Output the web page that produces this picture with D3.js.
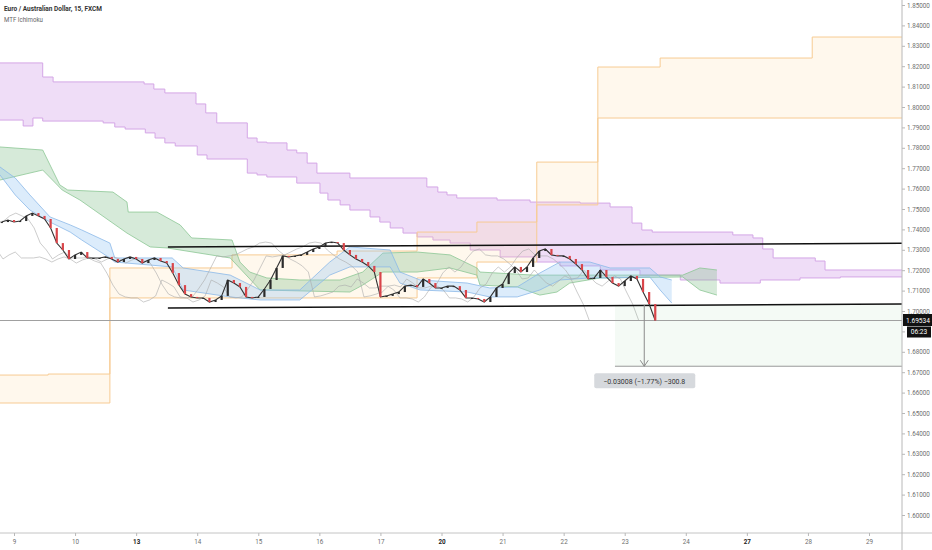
<!DOCTYPE html>
<html>
<head>
<meta charset="utf-8">
<script src="https://cdn.jsdelivr.net/npm/d3@7"></script>
<style>
  body { margin: 0; background: #fff; }
  text { font-family: Roboto, "Noto Sans", sans-serif; }
</style>
</head>
<body>
<div id="chart"></div>
<script>
// ---------- data (x = trading-day index, 0 = the "9" label; y = EUR/AUD price) ----------
var dayLabels = ["9", "10", "13", "14", "15", "16", "17", "20", "21", "22", "23", "24", "27", "28", "29"];
var boldDays = ["13", "20", "27"];
var priceTicks = [1.60, 1.61, 1.62, 1.63, 1.64, 1.65, 1.66, 1.67, 1.68, 1.69, 1.70, 1.71, 1.72,
                  1.73, 1.74, 1.75, 1.76, 1.77, 1.78, 1.79, 1.80, 1.81, 1.82, 1.83, 1.84, 1.85];

// closes, one every 0.1 day starting at day -0.2
var closeStart = -0.2, closeStep = 0.1;
var closes = [1.7436, 1.7446, 1.7436, 1.7441, 1.7466, 1.7480, 1.7466, 1.7451, 1.7407, 1.7333,
              1.7299, 1.7255, 1.7275, 1.7289, 1.7260, 1.7260, 1.7260, 1.7265, 1.7255, 1.7240,
              1.7255, 1.7265, 1.7255, 1.7235, 1.7250, 1.7260, 1.7245, 1.7235, 1.7186, 1.7127,
              1.7083, 1.7069, 1.7064, 1.7064, 1.7044, 1.7054, 1.7074, 1.7152, 1.7137, 1.7118,
              1.7069, 1.7064, 1.7069, 1.7108, 1.7152, 1.7211, 1.7270, 1.7265, 1.7270, 1.7275,
              1.7289, 1.7304, 1.7314, 1.7333, 1.7338, 1.7333, 1.7299, 1.7275, 1.7255, 1.7240,
              1.7221, 1.7191, 1.7069, 1.7074, 1.7083, 1.7093, 1.7122, 1.7127, 1.7118, 1.7157,
              1.7137, 1.7113, 1.7113, 1.7122, 1.7122, 1.7103, 1.7064, 1.7064, 1.7059, 1.7044,
              1.7069, 1.7113, 1.7132, 1.7186, 1.7216, 1.7191, 1.7216, 1.7260, 1.7294, 1.7304,
              1.7275, 1.7270, 1.7270, 1.7255, 1.7230, 1.7201, 1.7157, 1.7162, 1.7201, 1.7167,
              1.7137, 1.7122, 1.7147, 1.7172, 1.7157, 1.7093, 1.7034, 1.69534];
var lastPrice = 1.69534;
var timerText = "06:23";
// lagging spans: 26 bars of 15m and of 1h, in days
var laggingShifts = [0.27, 1.08];

// higher timeframe cloud (violet), step lines
var violetA = [[-0.23,1.8216],[0.47,1.8147],[0.64,1.8123],[2.13,1.8113],[2.29,1.8088],[2.47,1.8069],
  [2.98,1.8015],[3.14,1.7971],[3.32,1.7922],[3.82,1.7848],[3.98,1.7828],[4.14,1.7824],[4.47,1.7789],
  [4.63,1.7775],[4.80,1.7725],[4.96,1.7676],[5.50,1.7652],[6.76,1.7608],[6.94,1.7583],[7.09,1.7569],
  [7.25,1.7554],[7.91,1.7544],[8.45,1.7534],[9.27,1.7529],[9.76,1.7510],[10.12,1.7431],[10.28,1.7397],
  [10.45,1.7387],[11.77,1.7373],[12.10,1.7358],[12.26,1.7304],[12.43,1.7260],[13.12,1.7245],
  [13.28,1.7201],[14.54,1.7201]];
var violetB = [[-0.23,1.7936],[0.15,1.7907],[0.31,1.7946],[0.47,1.7931],[1.46,1.7922],[1.65,1.7902],
  [1.82,1.7892],[2.15,1.7873],[2.31,1.7848],[2.47,1.7824],[2.64,1.7809],[3.00,1.7765],[3.16,1.7745],
  [3.82,1.7676],[3.98,1.7667],[4.14,1.7657],[4.63,1.7627],[5.01,1.7578],[5.14,1.7544],[5.34,1.7520],
  [5.50,1.7495],[5.83,1.7461],[5.99,1.7436],[6.16,1.7407],[6.37,1.7382],[6.60,1.7363],[6.86,1.7348],
  [7.14,1.7333],[7.47,1.7299],[7.96,1.7265],[8.56,1.7240],[8.94,1.7221],[9.60,1.7201],[10.25,1.7176],
  [10.91,1.7152],[11.56,1.7137],[12.22,1.7152],[12.87,1.7162],[13.53,1.7167],[14.54,1.7167]];

// daily cloud (orange), step lines
var orangeA = [[-0.23,1.6686],[0.56,1.6691],[1.57,1.7064],[6.60,1.7162],[7.58,1.7240],[8.56,1.7520],
  [9.56,1.7946],[14.54,1.7946]];
var orangeB = [[-0.23,1.6549],[1.57,1.7211],[3.57,1.7275],[5.29,1.7294],[6.60,1.7387],[7.58,1.7436],
  [8.56,1.7730],[9.56,1.8196],[10.58,1.8240],[13.07,1.8343],[14.54,1.8343]];

// 1h cloud (green)
var greenUpper = [[-0.23,1.7804],[0.47,1.7789],[0.75,1.7618],[0.88,1.7593],[1.62,1.7583],[1.85,1.7534],
  [1.87,1.7485],[2.34,1.7485],[2.72,1.7422],[2.91,1.7358],[3.57,1.7348],[3.70,1.7240],[3.86,1.7191],
  [4.14,1.7162],[4.68,1.7152],[5.34,1.7152],[5.71,1.7191],[6.04,1.7284],[6.60,1.7289],[7.14,1.7275],
  [7.58,1.7211],[7.63,1.7191],[8.50,1.7176],[9.10,1.7176],[10.95,1.7176],[11.23,1.7211],[11.51,1.7201]];
var greenLower = [[-0.23,1.7642],[0.47,1.7691],[0.79,1.7593],[1.08,1.7544],[1.85,1.7382],[2.23,1.7314],
  [2.51,1.7309],[3.54,1.7260],[4.03,1.7103],[5.50,1.7093],[5.71,1.7127],[6.04,1.7191],[6.60,1.7191],
  [7.14,1.7211],[7.58,1.7176],[7.63,1.7127],[8.24,1.7118],[8.61,1.7078],[8.89,1.7093],[9.10,1.7137],
  [9.60,1.7162],[10.95,1.7167],[11.23,1.7103],[11.51,1.7078]];

// 15m cloud (blue)
var blueUpper = [[-0.23,1.7706],[0.02,1.7652],[0.26,1.7569],[0.59,1.7461],[0.92,1.7422],[1.11,1.7397],
  [1.57,1.7333],[1.65,1.7260],[2.59,1.7260],[2.77,1.7211],[3.54,1.7176],[4.03,1.7103],[4.68,1.7103],
  [5.17,1.7240],[5.50,1.7314],[6.16,1.7299],[6.32,1.7191],[6.65,1.7152],[7.42,1.7137],[7.79,1.7113],
  [8.24,1.7118],[8.61,1.7186],[8.94,1.7240],[9.43,1.7240],[9.76,1.7211],[10.41,1.7211],[10.58,1.7167],
  [10.77,1.7152]];
var blueLower = [[-0.23,1.7667],[0.02,1.7569],[0.26,1.7495],[0.59,1.7436],[0.92,1.7387],[1.11,1.7348],
  [1.57,1.7260],[1.65,1.7240],[2.59,1.7216],[2.77,1.7103],[3.54,1.7069],[4.03,1.7054],[4.68,1.7054],
  [5.17,1.7176],[5.50,1.7216],[6.16,1.7216],[6.32,1.7137],[6.65,1.7103],[7.42,1.7093],[7.79,1.7069],
  [8.24,1.7069],[8.61,1.7103],[8.94,1.7152],[9.43,1.7162],[9.76,1.7162],[10.41,1.7167],[10.58,1.7103],
  [10.77,1.7039]];

// drawn trend lines
var channelTop = [[2.52,1.7314],[14.54,1.7332]];
var channelBottom = [[2.52,1.7015],[14.54,1.7034]];

// price range measure
var measureStart = 9.84, measureEnd = 14.54, measureArrowAt = 10.32;
var measureFrom = 1.70300, measureTo = 1.67292;

// ---------- layout ----------
var W = 932, H = 550, plotRight = 902, plotBottom = 533;

var svg = d3.select("#chart").append("svg")
  .attr("width", W)
  .attr("height", H)
  .style("background", "#fff");

var x = d3.scaleLinear().domain([0, 14]).range([14, 869]);
var y = d3.scaleLinear().domain([1.60, 1.85]).range([515, 5]);

svg.append("clipPath").attr("id", "plot")
  .append("rect").attr("x", 0).attr("y", 0).attr("width", plotRight).attr("height", plotBottom);
var chart = svg.append("g").attr("clip-path", "url(#plot)");

var stepA = d3.line().x(d => x(d[0])).y(d => y(d[1])).curve(d3.curveStepAfter);
var stepB = d3.line().x(d => x(d[0])).y(d => y(d[1])).curve(d3.curveStepBefore);
var lin = d3.line().x(d => x(d[0])).y(d => y(d[1]));

function stepCloud(a, b, fill, fillOpacity, stroke) {
  var back = stepB(b.slice().reverse()).replace(/^M/, "L");
  chart.append("path")
    .attr("d", stepA(a) + back + "Z")
    .attr("fill", fill)
    .attr("fill-opacity", fillOpacity);
  [a, b].forEach(function (s) {
    chart.append("path").attr("d", stepA(s))
      .attr("fill", "none").attr("stroke", stroke).attr("stroke-width", 1);
  });
}

function lineCloud(up, low, fill, fillOpacity, stroke) {
  chart.append("path")
    .attr("d", lin(up.concat(low.slice().reverse())) + "Z")
    .attr("fill", fill)
    .attr("fill-opacity", fillOpacity);
  [up, low].forEach(function (s) {
    chart.append("path").attr("d", lin(s))
      .attr("fill", "none").attr("stroke", stroke).attr("stroke-width", 0.8);
  });
}

// clouds
stepCloud(violetA, violetB, "#dcb3ee", 0.45, "#d4a6e6");
stepCloud(orangeA, orangeB, "#ffd699", 0.18, "#f7cb93");
lineCloud(greenUpper, greenLower, "#80bf8a", 0.32, "#8cc794");
lineCloud(blueUpper, blueLower, "#92c5f2", 0.32, "#8bb9e8");

// bars built from closes (open = previous close)
var bars = closes.map(function (c, i) {
  return { t: closeStart + i * closeStep, o: i ? closes[i - 1] : c, c: c };
});

// lagging spans (price plotted back in time)
laggingShifts.forEach(function (s) {
  chart.append("path")
    .datum(bars)
    .attr("d", d3.line().x(d => x(d.t - s)).y(d => y(d.c)))
    .attr("fill", "none")
    .attr("stroke", "#aaaaaa")
    .attr("stroke-width", 0.6);
});

// measure area
chart.append("rect")
  .attr("x", x(measureStart))
  .attr("y", y(measureFrom))
  .attr("width", x(measureEnd) - x(measureStart))
  .attr("height", y(measureTo) - y(measureFrom))
  .attr("fill", "#4caf50")
  .attr("fill-opacity", 0.06);
chart.append("line")
  .attr("x1", x(measureStart)).attr("x2", x(measureEnd))
  .attr("y1", y(measureTo)).attr("y2", y(measureTo))
  .attr("stroke", "#9a9a9a").attr("stroke-width", 1);

// current price line
chart.append("line")
  .attr("x1", 0).attr("x2", plotRight)
  .attr("y1", y(lastPrice)).attr("y2", y(lastPrice))
  .attr("stroke", "#a0a0a0").attr("stroke-width", 1);

// channel lines
[channelTop, channelBottom].forEach(function (l) {
  chart.append("path").attr("d", lin(l))
    .attr("fill", "none").attr("stroke", "#111").attr("stroke-width", 1.5);
});

// candles
chart.append("path")
  .datum(bars)
  .attr("d", d3.line().x(d => x(d.t)).y(d => y(d.c)))
  .attr("fill", "none")
  .attr("stroke", "#333")
  .attr("stroke-width", 1.1);
chart.selectAll("rect.candle")
  .data(bars)
  .enter()
  .append("rect")
  .attr("class", "candle")
  .attr("x", d => x(d.t) - 1.1)
  .attr("width", 2.2)
  .attr("y", d => y(Math.max(d.o, d.c)))
  .attr("height", d => Math.max(1, Math.abs(y(d.o) - y(d.c))))
  .attr("fill", d => d.c >= d.o ? "#2b2b2b" : "#d9454a");

// measure arrow + label
var ax = x(measureArrowAt), ayTop = y(measureFrom), ayBot = y(measureTo);
chart.append("line")
  .attr("x1", ax).attr("x2", ax).attr("y1", ayTop).attr("y2", ayBot)
  .attr("stroke", "#8a8a8a").attr("stroke-width", 1);
chart.append("path")
  .attr("d", "M" + (ax - 4) + "," + (ayBot - 6) + "L" + ax + "," + ayBot + "L" + (ax + 4) + "," + (ayBot - 6))
  .attr("fill", "none").attr("stroke", "#8a8a8a").attr("stroke-width", 1);

var diff = measureTo - measureFrom;
var minus = "\u2212";
var labelText = minus + Math.abs(diff).toFixed(5) + " (" + minus + Math.abs(diff / measureFrom * 100).toFixed(2) + "%) " +
  minus + Math.abs(diff * 10000).toFixed(1);
svg.append("rect")
  .attr("x", ax - 50).attr("y", ayBot + 7)
  .attr("width", 101).attr("height", 15).attr("rx", 2)
  .attr("fill", "#d6d9dd");
svg.append("text")
  .attr("x", ax).attr("y", ayBot + 17.5)
  .attr("text-anchor", "middle")
  .attr("font-size", "7px")
  .attr("fill", "#333")
  .text(labelText);

// ---------- axes ----------
svg.append("line")
  .attr("x1", 0).attr("x2", W).attr("y1", plotBottom).attr("y2", plotBottom)
  .attr("stroke", "#c4c4c4");
svg.append("line")
  .attr("x1", plotRight).attr("x2", plotRight).attr("y1", 0).attr("y2", H)
  .attr("stroke", "#b8b8b8");

var yAxis = svg.append("g")
  .attr("transform", "translate(" + plotRight + ",0)")
  .call(d3.axisRight(y).tickValues(priceTicks).tickFormat(d3.format(".5f")).tickSize(3).tickPadding(2));
yAxis.select(".domain").remove();
yAxis.selectAll("line").attr("stroke", "#b8b8b8");
yAxis.selectAll("text").attr("font-size", "6.3px").attr("fill", "#6f6f6f")
  .attr("font-family", "Roboto, sans-serif");

var xAxis = svg.append("g")
  .attr("transform", "translate(0," + plotBottom + ")")
  .call(d3.axisBottom(x).tickValues(dayLabels.map((d, i) => i))
    .tickFormat(i => dayLabels[i]).tickSize(3).tickPadding(4));
xAxis.select(".domain").remove();
xAxis.selectAll("line").attr("stroke", "#b8b8b8");
xAxis.selectAll("text")
  .attr("font-size", "6.3px")
  .attr("font-family", "Roboto, sans-serif")
  .attr("fill", d => boldDays.indexOf(dayLabels[d]) >= 0 ? "#222" : "#6f6f6f")
  .attr("font-weight", d => boldDays.indexOf(dayLabels[d]) >= 0 ? "bold" : "normal");

// last price tag + countdown (drawn over the axis labels, as the platform does)
var py = y(lastPrice);
svg.append("rect").attr("x", plotRight + 1).attr("y", py - 6.5).attr("width", W - plotRight - 1).attr("height", 12)
  .attr("fill", "#111");
svg.append("text").attr("x", plotRight + 4).attr("y", py + 2.3)
  .attr("font-size", "6.6px").attr("fill", "#fff").text(d3.format(".5f")(lastPrice));
svg.append("rect").attr("x", plotRight + 5).attr("y", py + 6).attr("width", 24).attr("height", 11)
  .attr("fill", "#111");
svg.append("text").attr("x", plotRight + 17).attr("y", py + 13.8).attr("text-anchor", "middle")
  .attr("font-size", "6.6px").attr("fill", "#fff").text(timerText);

// ---------- title ----------
svg.append("text")
  .attr("x", 4).attr("y", 11)
  .attr("font-size", "7px")
  .attr("font-weight", "bold")
  .attr("fill", "#333")
  .attr("textLength", 98)
  .attr("lengthAdjust", "spacingAndGlyphs")
  .text("Euro / Australian Dollar, 15, FXCM");
svg.append("text")
  .attr("x", 4).attr("y", 22)
  .attr("font-size", "6.6px")
  .attr("fill", "#666")
  .attr("textLength", 39)
  .attr("lengthAdjust", "spacingAndGlyphs")
  .text("MTF Ichimoku");
</script>
</body>
</html>
